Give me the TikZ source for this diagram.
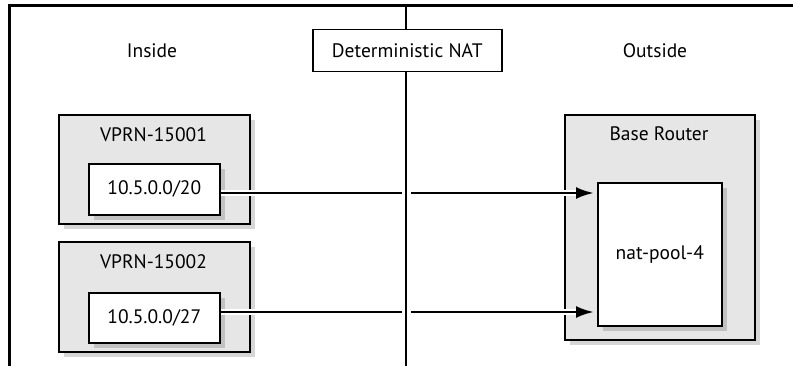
\documentclass[tikz,border=0pt]{standalone}
\usepackage{fontspec}
\setmainfont{PT Sans}
\usetikzlibrary{arrows.meta,shadows}
\definecolor{grayfill}{HTML}{E6E6E6}
\begin{document}
\begin{tikzpicture}[x=1pt,y=-1pt,
  every node/.style={font=\fontsize{19.5}{22}\selectfont},
  shad/.style={drop shadow={shadow xshift=5pt,shadow yshift=-5pt,fill=black,opacity=0.16}},
  grp/.style={draw,line width=1.6pt,fill=grayfill,anchor=north west,inner sep=0pt,shad},
  ibox/.style={draw,line width=1.6pt,fill=white,anchor=north west,inner sep=0pt,shad},
  lbl/.style={inner sep=0pt},
  halo/.style={line width=2.8pt,preaction={draw=white,line width=5.5pt}},
  arr/.style={halo,-{Latex[length=18pt,width=12pt]},shorten >=3pt}
]
\useasboundingbox (0,0) rectangle (793,366);
% frame
\draw[line width=3pt] (9,367) -- (9,6) -- (794,6);
% divider
\draw[line width=1.4pt] (406,6) -- (406,367);
\node[draw,line width=1.5pt,fill=white,minimum width=189pt,minimum height=42pt,anchor=north west,inner sep=0pt] (nat) at (312,29) {};
\node[lbl] (natl) at (nat.center) {Deterministic NAT};
\node[lbl] (ins) at (152,51) {Inside};
\node[lbl] (outs) at (655,51) {Outside};
% groups
\node[grp,minimum width=191pt,minimum height=109pt] (v1) at (58,114) {};
\node[grp,minimum width=191pt,minimum height=110pt] (v2) at (58,241) {};
\node[grp,minimum width=190pt,minimum height=225pt] (br) at (564,114) {};
\node[lbl] (v1t) at (153.5,135) {VPRN-15001};
\node[lbl] (v2t) at (153.5,262) {VPRN-15002};
\node[lbl] (brt) at (659,134) {Base Router};
\node[ibox,minimum width=131pt,minimum height=51pt] (n20) at (88,163) {};
\node[ibox,minimum width=131pt,minimum height=50pt] (n27) at (88,292) {};
\node[ibox,minimum width=124pt,minimum height=143pt] (pool) at (597,182) {};
\node[lbl] (n20t) at (n20.center) {10.5.0.0/20};
\node[lbl] (n27t) at (n27.center) {10.5.0.0/27};
\node[lbl] (poolt) at (pool.center) {nat-pool-4};
% arrows
\coordinate (g1l) at (402,193);
\coordinate (g1r) at (411,193);
\coordinate (g2l) at (402,312);
\coordinate (g2r) at (411,312);
\draw[halo] (n20.east|-g1l) -- (g1l);
\draw[arr] (g1r) -- (pool.west|-g1r);
\draw[halo] (n27.east|-g2l) -- (g2l);
\draw[arr] (g2r) -- (pool.west|-g2r);
\end{tikzpicture}
\end{document}
